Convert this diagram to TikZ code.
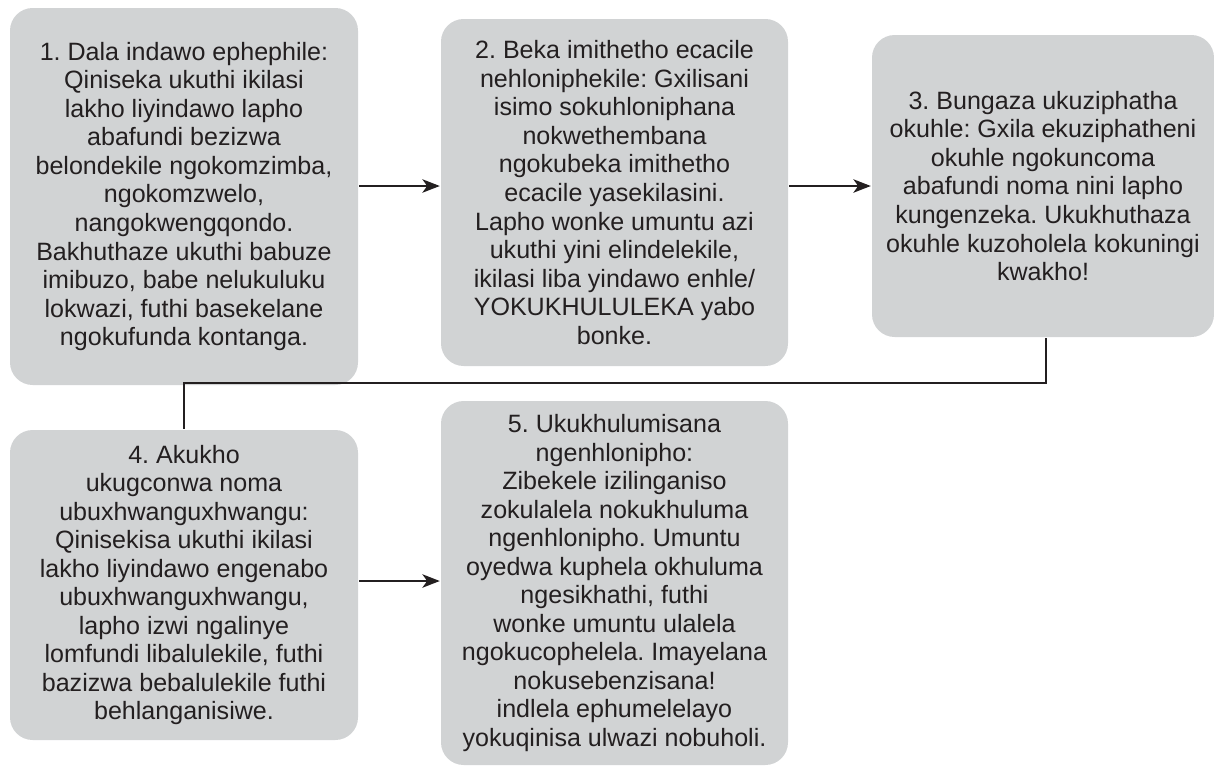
\documentclass[tikz,border=0pt]{standalone}
\usepackage{fontspec}
\setmainfont{Liberation Sans}
\usepackage{xcolor}
\usetikzlibrary{arrows.meta, positioning}
\definecolor{boxgray}{HTML}{D1D3D4}
\definecolor{inkdark}{HTML}{231F20}
\frenchspacing

\begin{document}
\begin{tikzpicture}[x=0.75pt,y=-0.75pt,line width=1.8pt,draw=inkdark,
    >={Stealth[length=13pt,width=10pt,inset=3.5pt]}]
      \tikzstyle{stage}=[fill=boxgray,rounded corners=17pt,align=center,
        text=inkdark,inner sep=0pt,font=\fontsize{18.8}{21.4}\selectfont]
      \useasboundingbox (0,0) rectangle (1214,765);

      \node[stage,minimum width=261pt,minimum height=282.75pt](b1) at (184,196.5)
        {1. Dala indawo ephephile:\\ Qiniseka ukuthi ikilasi\\ lakho liyindawo lapho\\
         abafundi bezizwa\\ belondekile ngokomzimba,\\ ngokomzwelo,\\ nangokwengqondo.\\
         Bakhuthaze ukuthi babuze\\ imibuzo, babe nelukuluku\\ lokwazi, futhi basekelane\\
         ngokufunda kontanga.};
      \node[stage,minimum width=260.25pt,minimum height=260.25pt](b2) at (614.5,192.5)
        {2. Beka imithetho ecacile\\ nehloniphekile: Gxilisani\\ isimo sokuhloniphana\\
         nokwethembana\\ ngokubeka imithetho\\ ecacile yasekilasini.\\ Lapho wonke umuntu azi\\
         ukuthi yini elindelekile,\\ ikilasi liba yindawo enhle/\\ YOKUKHULULEKA yabo\\ bonke.};
      \node[stage,minimum width=256.5pt,minimum height=226.5pt](b3) at (1043,186)
        {3. Bungaza ukuziphatha\\ okuhle: Gxila ekuziphatheni\\ okuhle ngokuncoma\\
         abafundi noma nini lapho\\ kungenzeka. Ukukhuthaza\\ okuhle kuzoholela kokuningi\\ kwakho!};
      \node[stage,minimum width=261pt,minimum height=232.5pt](b4) at (184,585)
        {4. Akukho\\ ukugconwa noma\\ ubuxhwanguxhwangu:\\ Qinisekisa ukuthi ikilasi\\
         lakho liyindawo engenabo\\ ubuxhwanguxhwangu,\\ lapho izwi ngalinye\\
         lomfundi libalulekile, futhi\\ bazizwa bebalulekile futhi\\ behlanganisiwe.};
      \node[stage,minimum width=260.25pt,minimum height=273pt](b5) at (614.5,583)
        {5. Ukukhulumisana\\ ngenhlonipho:\\ Zibekele izilinganiso\\ zokulalela nokukhuluma\\
         ngenhlonipho. Umuntu\\ oyedwa kuphela okhuluma\\ ngesikhathi, futhi\\
         wonke umuntu ulalela\\ ngokucophelela. Imayelana\\ nokusebenzisana!\\
         indlela ephumelelayo\\ yokuqinisa ulwazi nobuholi.};

      \coordinate (turn) at (0,383);
      \path[->]
      (b1.east |- b3) edge (b2.west |- b3)
      (b2.east |- b3) edge (b3.west)
      (b4.east |- 0,581) edge (b5.west |- 0,581);
      \draw ([xshift=2.25pt]b3.south) -- ([xshift=2.25pt]b3.south |- turn) -| (b4.north);
    \end{tikzpicture}
\end{document}
